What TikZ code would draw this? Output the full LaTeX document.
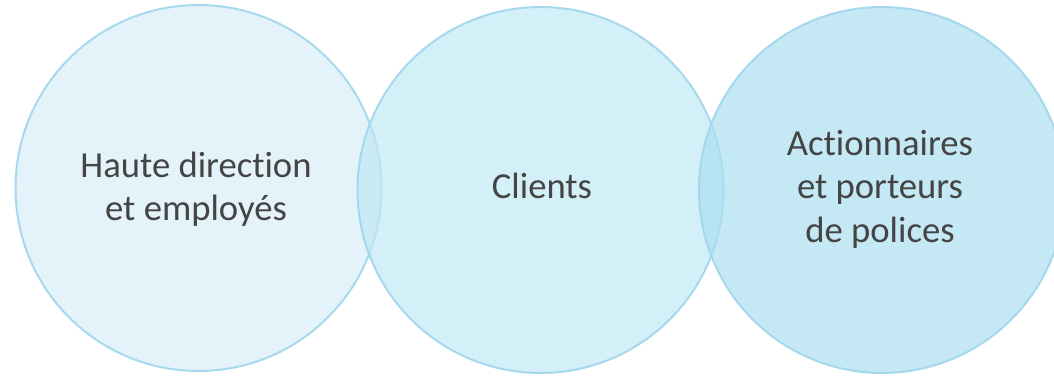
\documentclass[tikz,border=0pt]{standalone}
\usepackage{fontspec}
\setmainfont[Ligatures=NoCommon]{Carlito}
\definecolor{cA}{RGB}{216,236,248}
\definecolor{cB}{RGB}{192,232,243}
\definecolor{cC}{RGB}{172,222,241}
\definecolor{ring}{RGB}{160,214,236}
\definecolor{txt}{RGB}{68,68,68}
\begin{document}
\begin{tikzpicture}[x=0.75pt,y=-0.75pt,
  bubble/.style={circle,minimum size=366*0.75pt,inner sep=0pt,draw=ring,line width=1.5pt,fill opacity=0.7,draw opacity=0.9,text opacity=1},
  lbl/.style={text=txt,font=\fontsize{27.5}{32.5}\selectfont,align=center}]
\useasboundingbox (0,0) rectangle (1054,376);
\node[bubble,fill=cA] (c1) at (198.5,188) {};
\node[bubble,fill=cB] (c2) at (540.5,190) {};
\node[bubble,fill=cC] (c3) at (882,190) {};
\node[lbl] (t1) at (196,189) {Haute direction\\et employés};
\node[lbl] (t2) at (542,186) {Clients};
\node[lbl] (t3) at (880,189) {Actionnaires\\et porteurs\\de polices};
\end{tikzpicture}
\end{document}
